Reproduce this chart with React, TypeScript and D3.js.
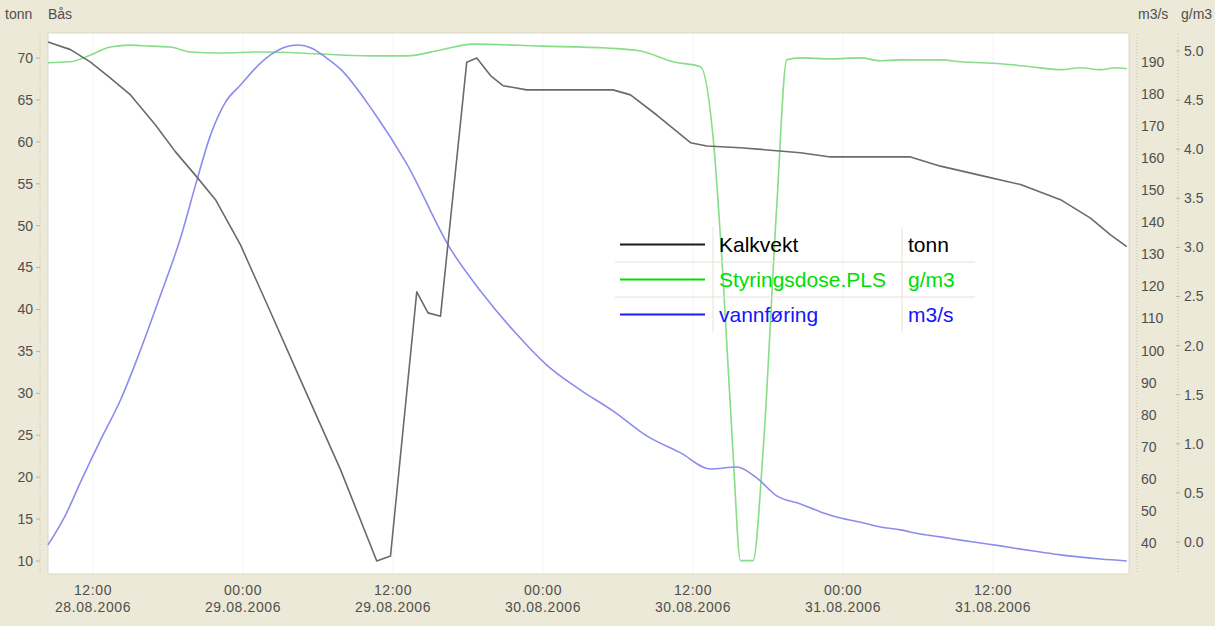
import React from "react";
import * as d3 from "d3";

const W = 1215;
const H = 626;

// [hours after 28.08.2006 00:00, value]
const kalkvekt: [number, number][] = [
  [8.4, 71.9], [10.2, 71.0], [11.8, 69.5], [13.4, 67.6], [15.0, 65.6],
  [17.0, 62.0], [18.6, 58.8], [20.2, 56.0], [21.8, 53.1], [23.8, 47.7],
  [26.2, 39.7], [28.6, 31.6], [31.8, 20.9], [34.7, 10.0], [35.8, 10.6],
  [37.9, 42.1], [38.8, 39.6], [39.8, 39.2], [41.9, 69.5], [42.7, 70.0],
  [43.8, 67.9], [44.8, 66.7], [46.7, 66.2], [53.6, 66.2], [55.0, 65.6],
  [57.1, 63.2], [59.8, 59.9], [61.1, 59.5], [63.8, 59.3], [66.2, 59.0],
  [68.6, 58.7], [71.0, 58.2], [77.4, 58.2], [79.8, 57.1], [83.0, 56.0],
  [86.2, 54.9], [89.4, 53.1], [91.8, 50.9], [93.4, 48.9], [94.7, 47.5],
];

const styringsdose: [number, number][] = [
  [8.4, 4.88], [10.2, 4.89], [11.8, 4.96], [13.4, 5.04], [15.0, 5.06],
  [16.6, 5.05], [18.2, 5.04], [19.8, 4.99], [22.2, 4.98], [25.4, 4.99],
  [28.6, 4.98], [31.8, 4.96], [35.0, 4.95], [37.1, 4.95], [39.8, 5.01],
  [42.4, 5.07], [47.8, 5.05], [53.1, 5.03], [55.8, 5.0], [58.4, 4.89],
  [60.6, 4.84], [61.6, 4.13], [62.4, 2.7], [63.2, 0.91], [63.8, -0.19],
  [64.8, -0.19], [65.6, 0.91], [66.7, 3.42], [67.5, 4.91], [68.6, 4.93],
  [71.0, 4.92], [73.4, 4.93], [75.0, 4.9], [76.6, 4.91], [79.8, 4.91],
  [81.4, 4.89], [84.6, 4.87], [87.0, 4.84], [89.4, 4.81], [91.0, 4.83],
  [92.6, 4.81], [93.8, 4.83], [94.7, 4.82],
];

const vannforing: [number, number][] = [
  [8.4, 39.4], [9.8, 48.7], [11.0, 59.0], [12.6, 72.1], [14.2, 84.6],
  [15.8, 100.2], [17.4, 117.3], [19.0, 135.1], [20.2, 151.6], [21.4, 167.2],
  [22.6, 177.5], [23.8, 182.8], [25.0, 188.1], [26.2, 192.2], [27.4, 194.7],
  [28.4, 195.3], [29.5, 194.3], [30.6, 191.5], [31.8, 187.8], [34.4, 174.7],
  [37.1, 158.2], [40.6, 131.7], [43.0, 118.6], [45.6, 106.4], [48.3, 95.5],
  [51.0, 87.7], [53.6, 81.2], [56.3, 73.4], [59.0, 68.1], [61.4, 63.1],
  [63.5, 63.7], [65.1, 60.3], [66.7, 54.7], [68.6, 52.2], [70.2, 49.7],
  [71.8, 47.8], [73.4, 46.5], [75.0, 45.0], [76.6, 44.1], [78.2, 42.8],
  [79.8, 41.9], [81.4, 40.9], [83.0, 40.0], [84.6, 39.1], [86.2, 38.1],
  [87.8, 37.2], [89.4, 36.3], [91.0, 35.6], [92.6, 35.0], [94.7, 34.4],
];

const tonnTicks = [10, 15, 20, 25, 30, 35, 40, 45, 50, 55, 60, 65, 70];
const m3sTicks = [40, 50, 60, 70, 80, 90, 100, 110, 120, 130, 140, 150, 160, 170, 180, 190];
const gm3Ticks = [0, 0.5, 1, 1.5, 2, 2.5, 3, 3.5, 4, 4.5, 5];
const timeTicks = [
  "28.08.2006 12:00", "29.08.2006 00:00", "29.08.2006 12:00", "30.08.2006 00:00",
  "30.08.2006 12:00", "31.08.2006 00:00", "31.08.2006 12:00",
];

const legendRows = [
  { name: "Kalkvekt", unit: "tonn", line: "#1a1a1a", text: "#000000" },
  { name: "Styringsdose.PLS", unit: "g/m3", line: "#00e000", text: "#00dd00" },
  { name: "vannføring", unit: "m3/s", line: "#1a1aff", text: "#1414ff" },
];

const parse = d3.timeParse("%d.%m.%Y %H:%M");
const t0 = parse("28.08.2006 00:00") as Date;
const at = (h: number) => new Date(t0.getTime() + h * 3600 * 1000);

const plot = { left: 48, right: 1129, top: 33, bottom: 574 };

const x = d3.scaleTime().domain([at(8.4), at(94.8)]).range([plot.left, plot.right - 1]);
const yTonn = d3.scaleLinear().domain([10, 70]).range([561, 58]);
const yM3s = d3.scaleLinear().domain([40, 190]).range([543, 62]);
const yGm3 = d3.scaleLinear().domain([0, 5]).range([542, 51]);

const fmtTime = d3.timeFormat("%H:%M");
const fmtDate = d3.timeFormat("%d.%m.%Y");

const mkLine = (y: d3.ScaleLinear<number, number>) =>
  d3
    .line<[number, number]>()
    .x((d) => x(at(d[0])))
    .y((d) => y(d[1]))
    .curve(d3.curveMonotoneX);

const tickFont = "'Liberation Sans', Arial, sans-serif";
const tickSize = 14;
const tickColor = "#4f4f4f";

export default function App() {
  const kalkPath = d3
    .line<[number, number]>()
    .x((d) => x(at(d[0])))
    .y((d) => yTonn(d[1]))(kalkvekt) as string;
  const dosePath = mkLine(yGm3)(styringsdose) as string;
  const flowPath = mkLine(yM3s)(vannforing) as string;

  const lg = { x0: 615, c1: 713, c2: 902, x1: 975, top: 227, rowH: 35 };

  return (
    <div>
      <style>{"body{margin:0;}"}</style>
      <svg width={W} height={H} style={{ display: "block", fontFamily: tickFont }}>
        <rect x={0} y={0} width={W} height={H} fill="#ece9d8" />
        <rect
          x={plot.left}
          y={plot.top}
          width={plot.right - plot.left}
          height={plot.bottom - plot.top}
          fill="#ffffff"
          stroke="#dcd8c8"
        />

        {/* faint vertical grid */}
        {timeTicks.map((t) => {
          const d = parse(t) as Date;
          return (
            <line key={"g" + t} x1={x(d)} x2={x(d)} y1={plot.top + 1} y2={plot.bottom - 1} stroke="#f5f5f3" />
          );
        })}

        {/* header labels */}
        <g fontSize={tickSize} fill={tickColor}>
          <text x={5} y={19}>tonn</text>
          <text x={48} y={19}>Bås</text>
          <text x={1138} y={19}>m3/s</text>
          <text x={1181} y={19}>g/m3</text>
        </g>

        {/* left axis */}
        <line x1={40} x2={40} y1={34} y2={574} stroke="#c8c4b4" strokeDasharray="1,2" />
        {tonnTicks.map((v) => (
          <g key={"l" + v}>
            <line x1={36} x2={40} y1={yTonn(v)} y2={yTonn(v)} stroke="#b8b4a4" />
            <text x={33} y={yTonn(v)} dy="0.35em" textAnchor="end" fontSize={tickSize} fill={tickColor}>
              {v}
            </text>
          </g>
        ))}

        {/* right axes */}
        <line x1={1137} x2={1137} y1={34} y2={574} stroke="#c8c4b4" strokeDasharray="1,2" />
        <line x1={1178} x2={1178} y1={34} y2={574} stroke="#c8c4b4" strokeDasharray="1,2" />
        {m3sTicks.map((v) => (
          <text key={"m" + v} x={1141} y={yM3s(v)} dy="0.35em" fontSize={tickSize} fill={tickColor}>
            {v}
          </text>
        ))}
        {gm3Ticks.map((v) => (
          <g key={"g" + v}>
            <line x1={1176} x2={1180} y1={yGm3(v)} y2={yGm3(v)} stroke="#b8b4a4" />
            <text x={1184} y={yGm3(v)} dy="0.35em" fontSize={tickSize} fill={tickColor}>
              {v.toFixed(1)}
            </text>
          </g>
        ))}

        {/* time axis */}
        {timeTicks.map((t) => {
          const d = parse(t) as Date;
          return (
            <g
              key={"t" + t}
              transform={`translate(${x(d)},0)`}
              fill={tickColor}
              fontSize={tickSize}
              letterSpacing={0.6}
            >
              <text y={595} textAnchor="middle">{fmtTime(d)}</text>
              <text y={612} textAnchor="middle">{fmtDate(d)}</text>
            </g>
          );
        })}

        {/* series */}
        <g fill="none" strokeLinejoin="round">
          <path d={dosePath} stroke="#88dd88" strokeWidth={1.6} />
          <path d={flowPath} stroke="#8c8cee" strokeWidth={1.6} />
          <path d={kalkPath} stroke="#6a6a6a" strokeWidth={1.6} />
        </g>

        {/* legend table */}
        <g>
          {legendRows.map((r, i) => {
            const cy = lg.top + i * lg.rowH + lg.rowH / 2;
            return (
              <g key={r.name}>
                <line x1={620} x2={705} y1={cy} y2={cy} stroke={r.line} strokeWidth={2} />
                <text x={lg.c1 + 6} y={cy} dy="0.35em" fontSize={21} fill={r.text}>
                  {r.name}
                </text>
                <text x={lg.c2 + 6} y={cy} dy="0.35em" fontSize={21} fill={r.text}>
                  {r.unit}
                </text>
                {i > 0 && (
                  <line x1={lg.x0} x2={lg.x1} y1={lg.top + i * lg.rowH} y2={lg.top + i * lg.rowH} stroke="#e6e2d2" />
                )}
              </g>
            );
          })}
          <line x1={lg.c1} x2={lg.c1} y1={lg.top} y2={lg.top + 3 * lg.rowH} stroke="#e6e2d2" />
          <line x1={lg.c2} x2={lg.c2} y1={lg.top} y2={lg.top + 3 * lg.rowH} stroke="#e6e2d2" />
        </g>
      </svg>
    </div>
  );
}
